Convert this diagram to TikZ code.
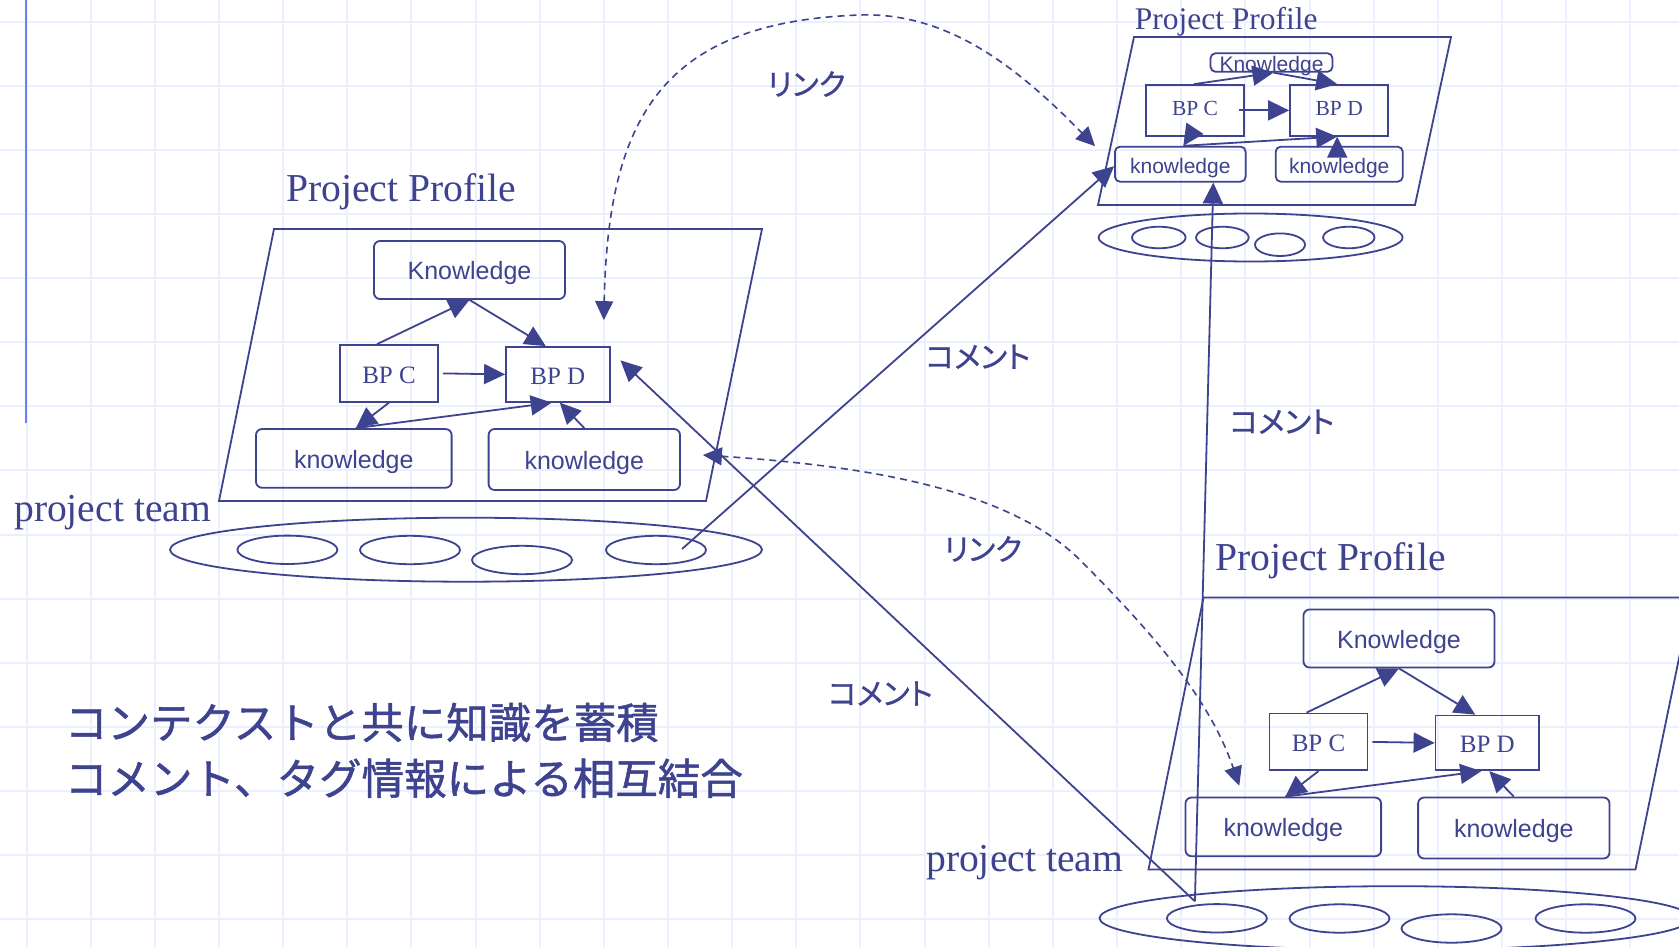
\documentclass[tikz,border=0pt]{standalone}
\usepackage{fontspec}
\setmainfont{Liberation Serif}
\setsansfont{Liberation Sans}
\newfontfamily\jpfont[FakeBold=1.2]{Noto Sans CJK JP}
\newfontfamily\jplabelfont[RawFeature=+palt,FakeBold=0.8]{Noto Sans CJK JP}
\usetikzlibrary{arrows.meta,shapes.geometric}
\definecolor{inkc}{RGB}{62,67,143}
\definecolor{gridc}{RGB}{236,240,254}
\definecolor{bluel}{RGB}{108,128,240}
\tikzset{
  ink/.style={draw=inkc, line width=1.8pt},
  arr/.style={draw=inkc, line width=1.8pt, -{Triangle[length=21pt,width=20pt]}},
  darr/.style={draw=inkc, line width=1.6pt, dash pattern=on 7pt off 5pt,
    {Triangle[length=19pt,width=18pt]}-{Triangle[length=19pt,width=18pt]}},
  gridline/.style={draw=gridc, line width=2pt},
  kbox/.style={draw=inkc, line width=1.8pt, rounded corners=6pt, inner sep=0pt,
    font=\sffamily\fontsize{25}{30}\selectfont, text=inkc, text height=19.5pt, text depth=0pt},
  bpbox/.style={draw=inkc, line width=1.8pt, inner sep=0pt,
    font=\fontsize{25}{30}\selectfont, text=inkc, text height=19.8pt, text depth=0pt},
  kboxS/.style={draw=inkc, line width=1.8pt, rounded corners=5pt, inner sep=0pt,
    font=\sffamily\fontsize{21}{25}\selectfont, text=inkc, text height=18.4pt, text depth=0pt},
  bpboxS/.style={draw=inkc, line width=1.8pt, inner sep=0pt,
    font=\fontsize{21.5}{26}\selectfont, text=inkc, text height=11.2pt, text depth=0pt},
  ptitle/.style={inner sep=0pt, text=inkc, font=\fontsize{39.6}{45}\selectfont},
  ptitleS/.style={inner sep=0pt, text=inkc, font=\fontsize{31.5}{36}\selectfont},
  team/.style={ellipse, draw=inkc, line width=1.8pt, inner sep=0pt},
  member/.style={ellipse, draw=inkc, line width=1.8pt, inner sep=0pt,
    minimum width=100pt, minimum height=28.4pt},
  memberS/.style={ellipse, draw=inkc, line width=1.8pt, inner sep=0pt},
  jpmain/.style={inner sep=0pt, text=inkc, font=\jpfont\fontsize{42.5}{50}\selectfont},
  jlab/.style={inner sep=0pt, text=inkc, font=\jplabelfont\fontsize{30}{36}\selectfont},
}
\newcommand\bigprofile[3]{%
\begin{scope}[shift={(#2,#3)}]
\draw[ink] (274,229) -- (762,229) -- (706,501) -- (219,501) -- cycle;
\node[ptitle, anchor=base west] (#1title) at (286,201.7) {Project Profile};
\node[kbox, minimum width=191pt, minimum height=58pt] (#1kn) at (469.5,270) {Knowledge};
\node[bpbox, minimum width=98pt, minimum height=56.7pt] (#1bpc) at (389,373.4) {BP C};
\node[bpbox, minimum width=103.6pt, minimum height=54.7pt] (#1bpd) at (557.8,374.4) {BP D};
\node[kbox, minimum width=195.6pt, minimum height=58.7pt] (#1kl) at (353.8,458.4) {knowledge};
\node[kbox, minimum width=191.4pt, minimum height=61pt] (#1kr) at (584.3,459.5) {knowledge};
\draw[arr] ([xshift=-12pt]#1bpc.north) -- (#1kn.south);
\draw[arr] (#1kn.south) -- ([xshift=-12pt]#1bpd.north);
\draw[arr] ([xshift=4pt]#1bpc.east) -- (#1bpd.west);
\draw[arr] (#1bpc.south) -- ([xshift=2pt]#1kl.north);
\draw[arr] ([xshift=2pt]#1kl.north) -- ([xshift=-6pt]#1bpd.south);
\draw[arr] (#1kr.north) -- ([xshift=2pt]#1bpd.south);
\node[team, minimum width=592pt, minimum height=64pt] (#1team) at (466,549.7) {};
\node[member] (#1m1) at (287.4,549.8) {};
\node[member] (#1m2) at (410,550) {};
\node[member] (#1m3) at (522,560) {};
\node[member] (#1m4) at (656,550) {};
\end{scope}}
\begin{document}
\begin{tikzpicture}[x=1pt,y=-1pt]
\useasboundingbox (0,0) rectangle (1679,947);
\clip (0,0) rectangle (1679,947);
\fill[white] (0,0) rectangle (1679,947);
% background grid
\foreach \i in {0,...,25} \draw[gridline] ({26.5+64.15*\i},0) -- ({26.5+64.15*\i},947);
\foreach \j in {0,...,14} \draw[gridline] (0,{21.7+64.1*\j}) -- (1679,{21.7+64.1*\j});
\draw[draw=bluel, line width=2pt] (25.8,0) -- (25.8,423);

% left and bottom-right profiles
\bigprofile{L}{0}{0}
\bigprofile{BR}{929.5}{368.5}

% top-right profile
\draw[ink] (1134,37) -- (1451,37) -- (1415,205) -- (1098,205) -- cycle;
\node[ptitleS, anchor=base west] (TRtitle) at (1134.6,30) {Project Profile};
\node[kboxS, minimum width=122pt, minimum height=18.5pt] (TRkn) at (1271.5,62.5) {Knowledge};
\node[bpboxS, minimum width=98.6pt, minimum height=50.7pt] (TRbpc) at (1195,110.4) {BP C};
\node[bpboxS, minimum width=98.3pt, minimum height=50.7pt] (TRbpd) at (1339.2,110.4) {BP D};
\node[kboxS, minimum width=130.7pt, minimum height=35pt] (TRkl) at (1180.3,164.2) {knowledge};
\node[kboxS, minimum width=127pt, minimum height=35pt] (TRkr) at (1339.2,164.2) {knowledge};
\draw[arr] ([xshift=-1pt]TRbpc.north) -- ([xshift=2pt]TRkn.south);
\draw[arr] ([xshift=2pt]TRkn.south) -- ([xshift=-2pt]TRbpd.north);
\draw[arr] ([xshift=-6pt]TRbpc.east) -- (TRbpd.west);
\draw[arr] ([shift={(-1,-7)}]TRbpc.south) -- ([xshift=3pt]TRkl.north);
\draw[arr] ([xshift=3pt]TRkl.north) -- ([xshift=-2pt]TRbpd.south);
\draw[arr] ([shift={(-2,8)}]TRkr.north) -- ([xshift=-2pt]TRbpd.south);
\node[team, minimum width=304pt, minimum height=48pt] (TRteam) at (1250.6,237.5) {};
\node[memberS, minimum width=53.6pt, minimum height=21.6pt] (TRm1) at (1158.8,237.5) {};
\node[memberS, minimum width=52.6pt, minimum height=21.6pt] (TRm2) at (1222.4,237.5) {};
\node[memberS, minimum width=50pt, minimum height=22.6pt] (TRm3) at (1280,244.7) {};
\node[memberS, minimum width=51.4pt, minimum height=21.6pt] (TRm4) at (1348.8,237.5) {};

% team labels
\node[ptitle, anchor=base west] (ptL) at (14,521.7) {project team};
\node[ptitle, anchor=base west] (ptBR) at (926,871.7) {project team};

% comment connectors
\coordinate (src) at ([shift={(-22,-17)}]BRm1.center);
\draw[arr] ([shift={(26,-1)}]Lm4.center) -- ([shift={(0,2)}]TRkl.west);
\draw[arr] (src) -- ([shift={(10,-14)}]Lbpd.east);
\draw[arr] (src) -- ([xshift=33pt]TRkl.south);

% link connectors
\draw[darr] ([shift={(46,-26)}]Lbpd.north) .. controls (608,120) and (660,22) .. (860,15)
   .. controls (950,12) and (1020,70) .. ([shift={(-19,-18)}]TRkl.west);
\draw[darr] ([shift={(22,-4.5)}]Lkr.east) .. controls (850,465) and (1005,485) .. (1080,560)
   .. controls (1155,635) and (1210,700) .. ([shift={(-44,-11)}]BRkl.north);

% labels
\node[jlab] (lk1lab) at (806.5,84) {リンク};
\node[jlab] (lk2lab) at (983,549) {リンク};
\node[jlab] (c1lab) at (978,356.7) {コメント};
\node[jlab] (c2lab) at (1282,421.7) {コメント};
\node[jlab] (c3lab) at (880.5,693.5) {コメント};

% main text
\node[jpmain, anchor=west] (jp1) at (64.8,722.5) {コンテクストと共に知識を蓄積};
\node[jpmain, anchor=west] (jp2) at (64.8,778.3) {コメント、タグ情報による相互結合};
\end{tikzpicture}
\end{document}
